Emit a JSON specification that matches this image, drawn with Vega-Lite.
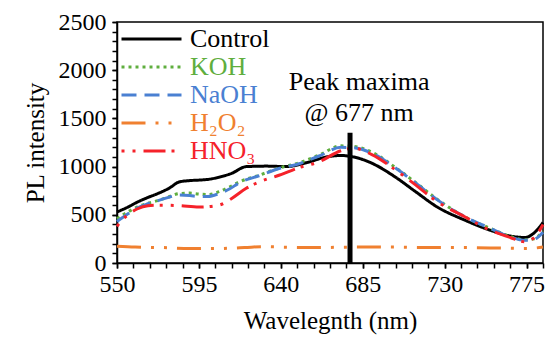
{
  "$schema": "https://vega.github.io/schema/vega-lite/v6.json",
  "width": 426,
  "height": 241,
  "autosize": "none",
  "padding": {"left": 117, "top": 22, "right": 6, "bottom": 80},
  "background": "white",
  "config": {
    "view": {"stroke": "black", "strokeWidth": 1.5},
    "font": "Liberation Serif, Times New Roman, DejaVu Serif, serif",
    "axis": {
      "grid": false,
      "domainColor": "black",
      "domainWidth": 1.5,
      "tickColor": "black",
      "tickWidth": 1.5,
      "tickSize": 5,
      "labelFont": "Liberation Serif, Times New Roman, DejaVu Serif, serif",
      "labelFontSize": 24,
      "labelColor": "black",
      "titleFont": "Liberation Serif, Times New Roman, DejaVu Serif, serif",
      "titleFontSize": 25,
      "titleFontWeight": "normal",
      "titleColor": "black",
      "labelOverlap": false,
      "labelFlush": false
    }
  },
  "resolve": {"axis": {"x": "independent", "y": "independent"}},
  "datasets": {
    "spectra": [
      {"series": "Control", "wl": 550, "pl": 530}, {"series": "Control", "wl": 556, "pl": 580}, {"series": "Control", "wl": 561, "pl": 630}, {"series": "Control", "wl": 567, "pl": 680}, {"series": "Control", "wl": 573, "pl": 725}, {"series": "Control", "wl": 579, "pl": 780}, {"series": "Control", "wl": 584, "pl": 840}, {"series": "Control", "wl": 590, "pl": 855}, {"series": "Control", "wl": 595, "pl": 860}, {"series": "Control", "wl": 601, "pl": 870}, {"series": "Control", "wl": 606, "pl": 890}, {"series": "Control", "wl": 613, "pl": 930}, {"series": "Control", "wl": 621, "pl": 1000}, {"series": "Control", "wl": 632, "pl": 1005}, {"series": "Control", "wl": 643, "pl": 1000}, {"series": "Control", "wl": 654, "pl": 1040}, {"series": "Control", "wl": 665, "pl": 1100}, {"series": "Control", "wl": 673, "pl": 1115}, {"series": "Control", "wl": 680, "pl": 1100}, {"series": "Control", "wl": 690, "pl": 1035}, {"series": "Control", "wl": 703, "pl": 890}, {"series": "Control", "wl": 714, "pl": 740}, {"series": "Control", "wl": 726, "pl": 580}, {"series": "Control", "wl": 741, "pl": 445}, {"series": "Control", "wl": 755, "pl": 340}, {"series": "Control", "wl": 766, "pl": 280}, {"series": "Control", "wl": 774, "pl": 265}, {"series": "Control", "wl": 779, "pl": 310}, {"series": "Control", "wl": 784, "pl": 420},
      {"series": "KOH", "wl": 550, "pl": 460}, {"series": "KOH", "wl": 556, "pl": 530}, {"series": "KOH", "wl": 561, "pl": 580}, {"series": "KOH", "wl": 567, "pl": 620}, {"series": "KOH", "wl": 573, "pl": 650}, {"series": "KOH", "wl": 579, "pl": 690}, {"series": "KOH", "wl": 584, "pl": 720}, {"series": "KOH", "wl": 590, "pl": 725}, {"series": "KOH", "wl": 595, "pl": 715}, {"series": "KOH", "wl": 600, "pl": 710}, {"series": "KOH", "wl": 606, "pl": 740}, {"series": "KOH", "wl": 612, "pl": 790}, {"series": "KOH", "wl": 617, "pl": 840}, {"series": "KOH", "wl": 628, "pl": 910}, {"series": "KOH", "wl": 639, "pl": 985}, {"series": "KOH", "wl": 650, "pl": 1040}, {"series": "KOH", "wl": 661, "pl": 1120}, {"series": "KOH", "wl": 673, "pl": 1215}, {"series": "KOH", "wl": 680, "pl": 1210}, {"series": "KOH", "wl": 690, "pl": 1150}, {"series": "KOH", "wl": 703, "pl": 990}, {"series": "KOH", "wl": 714, "pl": 835}, {"series": "KOH", "wl": 726, "pl": 660}, {"series": "KOH", "wl": 741, "pl": 480}, {"series": "KOH", "wl": 755, "pl": 360}, {"series": "KOH", "wl": 766, "pl": 275}, {"series": "KOH", "wl": 774, "pl": 240}, {"series": "KOH", "wl": 779, "pl": 250}, {"series": "KOH", "wl": 784, "pl": 330},
      {"series": "NaOH", "wl": 550, "pl": 430}, {"series": "NaOH", "wl": 556, "pl": 510}, {"series": "NaOH", "wl": 561, "pl": 570}, {"series": "NaOH", "wl": 567, "pl": 615}, {"series": "NaOH", "wl": 573, "pl": 650}, {"series": "NaOH", "wl": 579, "pl": 685}, {"series": "NaOH", "wl": 584, "pl": 705}, {"series": "NaOH", "wl": 590, "pl": 700}, {"series": "NaOH", "wl": 595, "pl": 690}, {"series": "NaOH", "wl": 600, "pl": 690}, {"series": "NaOH", "wl": 606, "pl": 720}, {"series": "NaOH", "wl": 612, "pl": 770}, {"series": "NaOH", "wl": 617, "pl": 830}, {"series": "NaOH", "wl": 628, "pl": 905}, {"series": "NaOH", "wl": 639, "pl": 980}, {"series": "NaOH", "wl": 650, "pl": 1030}, {"series": "NaOH", "wl": 661, "pl": 1110}, {"series": "NaOH", "wl": 673, "pl": 1200}, {"series": "NaOH", "wl": 680, "pl": 1195}, {"series": "NaOH", "wl": 690, "pl": 1140}, {"series": "NaOH", "wl": 703, "pl": 985}, {"series": "NaOH", "wl": 714, "pl": 830}, {"series": "NaOH", "wl": 726, "pl": 655}, {"series": "NaOH", "wl": 741, "pl": 480}, {"series": "NaOH", "wl": 755, "pl": 360}, {"series": "NaOH", "wl": 766, "pl": 270}, {"series": "NaOH", "wl": 774, "pl": 235}, {"series": "NaOH", "wl": 779, "pl": 245}, {"series": "NaOH", "wl": 784, "pl": 320},
      {"series": "H₂O₂", "wl": 550, "pl": 175}, {"series": "H₂O₂", "wl": 560, "pl": 165}, {"series": "H₂O₂", "wl": 575, "pl": 160}, {"series": "H₂O₂", "wl": 590, "pl": 150}, {"series": "H₂O₂", "wl": 605, "pl": 150}, {"series": "H₂O₂", "wl": 620, "pl": 160}, {"series": "H₂O₂", "wl": 630, "pl": 170}, {"series": "H₂O₂", "wl": 640, "pl": 165}, {"series": "H₂O₂", "wl": 660, "pl": 160}, {"series": "H₂O₂", "wl": 680, "pl": 165}, {"series": "H₂O₂", "wl": 700, "pl": 165}, {"series": "H₂O₂", "wl": 720, "pl": 160}, {"series": "H₂O₂", "wl": 740, "pl": 160}, {"series": "H₂O₂", "wl": 760, "pl": 155}, {"series": "H₂O₂", "wl": 775, "pl": 150}, {"series": "H₂O₂", "wl": 784, "pl": 165},
      {"series": "HNO₃", "wl": 550, "pl": 380}, {"series": "HNO₃", "wl": 553, "pl": 450}, {"series": "HNO₃", "wl": 556, "pl": 500}, {"series": "HNO₃", "wl": 561, "pl": 560}, {"series": "HNO₃", "wl": 567, "pl": 595}, {"series": "HNO₃", "wl": 573, "pl": 600}, {"series": "HNO₃", "wl": 584, "pl": 595}, {"series": "HNO₃", "wl": 595, "pl": 580}, {"series": "HNO₃", "wl": 606, "pl": 600}, {"series": "HNO₃", "wl": 613, "pl": 670}, {"series": "HNO₃", "wl": 621, "pl": 775}, {"series": "HNO₃", "wl": 628, "pl": 840}, {"series": "HNO₃", "wl": 639, "pl": 910}, {"series": "HNO₃", "wl": 650, "pl": 990}, {"series": "HNO₃", "wl": 661, "pl": 1050}, {"series": "HNO₃", "wl": 673, "pl": 1165}, {"series": "HNO₃", "wl": 680, "pl": 1190}, {"series": "HNO₃", "wl": 690, "pl": 1125}, {"series": "HNO₃", "wl": 703, "pl": 965}, {"series": "HNO₃", "wl": 714, "pl": 810}, {"series": "HNO₃", "wl": 726, "pl": 635}, {"series": "HNO₃", "wl": 741, "pl": 480}, {"series": "HNO₃", "wl": 755, "pl": 340}, {"series": "HNO₃", "wl": 766, "pl": 265}, {"series": "HNO₃", "wl": 774, "pl": 220}, {"series": "HNO₃", "wl": 779, "pl": 260}, {"series": "HNO₃", "wl": 784, "pl": 400}
    ],
    "peak": [{"wl": 678, "lo": 0, "hi": 1350}],
    "notes": [
      {"wl": 683, "pl": 1877, "text": "Peak maxima"},
      {"wl": 683, "pl": 1556, "text": "@ 677 nm"}
    ]
  },
  "layer": [
    {
      "data": {"name": "peak"},
      "mark": {"type": "rule", "opacity": 0},
      "encoding": {
        "x": {
          "field": "wl", "type": "quantitative",
          "scale": {"domain": [550, 784], "nice": false, "zero": false},
          "axis": {
            "orient": "bottom",
            "title": null,
            "domain": false,
            "labels": false,
            "values": [550, 559, 568, 577, 586, 595, 604, 613, 622, 631, 640, 649, 658, 667, 676, 685, 694, 703, 712, 721, 730, 739, 748, 757, 766, 775, 784]
          }
        },
        "y": {
          "field": "lo", "type": "quantitative",
          "scale": {"domain": [0, 2500], "nice": false},
          "axis": {
            "orient": "left",
            "title": null,
            "domain": false,
            "labels": false,
            "values": [0, 100, 200, 300, 400, 500, 600, 700, 800, 900, 1000, 1100, 1200, 1300, 1400, 1500, 1600, 1700, 1800, 1900, 2000, 2100, 2200, 2300, 2400, 2500]
          }
        }
      }
    },
    {
      "data": {"name": "spectra"},
      "mark": {"type": "line", "strokeWidth": 3, "interpolate": "monotone"},
      "encoding": {
        "x": {
          "field": "wl", "type": "quantitative",
          "axis": {
            "orient": "bottom",
            "title": "Wavelegnth (nm)",
            "values": [550, 595, 640, 685, 730, 775],
            "labelPadding": 4,
            "titlePadding": 12
          }
        },
        "y": {
          "field": "pl", "type": "quantitative",
          "axis": {
            "orient": "left",
            "title": "PL intensity",
            "values": [0, 500, 1000, 1500, 2000, 2500],
            "format": "d",
            "labelPadding": 6,
            "titlePadding": 10
          }
        },
        "color": {
          "field": "series", "type": "nominal",
          "scale": {"domain": ["Control", "KOH", "NaOH", "H₂O₂", "HNO₃"], "range": ["#000000", "#5fae3e", "#4a80d2", "#f08030", "#f5222a"]},
          "legend": {
            "title": null,
            "orient": "top-left",
            "offset": 3,
            "symbolType": "stroke",
            "symbolSize": 3600,
            "symbolStrokeWidth": 3,
            "clipHeight": 28,
            "rowPadding": 0,
            "labelFont": "Liberation Serif, Times New Roman, DejaVu Serif, serif",
            "labelFontSize": 26,
            "labelOffset": 7,
            "padding": 0,
            "encode": {"labels": {"update": {"fill": {"scale": "color", "field": "value"}}}}
          }
        },
        "strokeDash": {
          "field": "series", "type": "nominal",
          "scale": {"domain": ["Control", "KOH", "NaOH", "H₂O₂", "HNO₃"], "range": [[1, 0], [3, 4], [15, 8], [24, 10, 3, 10, 3, 10], [3, 8, 3, 8, 22, 6]]},
          "legend": null
        },
        "order": {"field": "wl", "type": "quantitative"}
      }
    },
    {
      "data": {"name": "peak"},
      "mark": {"type": "rule", "color": "black", "strokeWidth": 5},
      "encoding": {
        "x": {"field": "wl", "type": "quantitative", "axis": null},
        "y": {"field": "lo", "type": "quantitative", "axis": null},
        "y2": {"field": "hi"}
      }
    },
    {
      "data": {"name": "notes"},
      "mark": {"type": "text", "font": "Liberation Serif, Times New Roman, DejaVu Serif, serif", "fontSize": 26, "color": "black", "align": "center", "baseline": "middle"},
      "encoding": {
        "x": {"field": "wl", "type": "quantitative", "axis": null},
        "y": {"field": "pl", "type": "quantitative", "axis": null},
        "text": {"field": "text"}
      }
    }
  ]
}
